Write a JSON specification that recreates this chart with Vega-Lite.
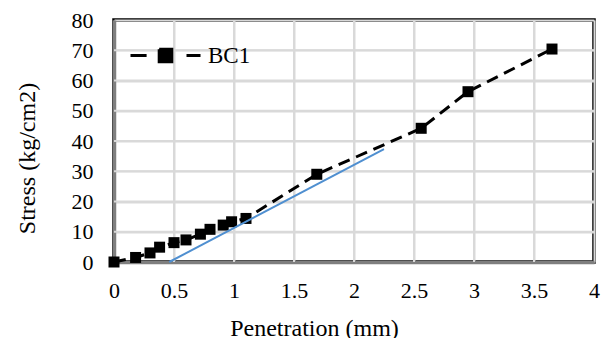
{
  "$schema": "https://vega.github.io/schema/vega-lite/v6.json",
  "width": 480,
  "height": 242,
  "autosize": {"type": "none"},
  "padding": {"left": 114, "top": 20, "right": 12, "bottom": 76},
  "background": "white",
  "config": {
    "view": {"stroke": "black", "strokeWidth": 3.5},
    "font": "Liberation Serif",
    "axis": {
      "labelFont": "Liberation Serif",
      "titleFont": "Liberation Serif",
      "labelColor": "black",
      "titleColor": "black",
      "titleFontWeight": "normal",
      "grid": true,
      "gridColor": "#d9d9d9",
      "gridWidth": 2,
      "gridOpacity": 1,
      "zindex": 1,
      "ticks": false,
      "domainColor": "#7f7f7f",
      "domainWidth": 3.5,
      "labelFontSize": 22,
      "labelFlush": false,
      "labelOverlap": false,
      "titleFontSize": 24
    }
  },
  "datasets": {
    "gridx": [{"v": 0.5}, {"v": 1}, {"v": 1.5}, {"v": 2}, {"v": 2.5}, {"v": 3}, {"v": 3.5}],
    "gridy": [{"v": 10}, {"v": 20}, {"v": 30}, {"v": 40}, {"v": 50}, {"v": 60}, {"v": 70}],
    "bc1": [
      {"pen": 0, "stress": 0},
      {"pen": 0.18, "stress": 1.5},
      {"pen": 0.3, "stress": 3},
      {"pen": 0.38, "stress": 4.9},
      {"pen": 0.5, "stress": 6.4},
      {"pen": 0.6, "stress": 7.3},
      {"pen": 0.72, "stress": 9.2},
      {"pen": 0.8, "stress": 10.8},
      {"pen": 0.91, "stress": 12.2},
      {"pen": 0.98, "stress": 13.3},
      {"pen": 1.1, "stress": 14.4},
      {"pen": 1.69, "stress": 29},
      {"pen": 2.56, "stress": 44.2},
      {"pen": 2.95, "stress": 56.3},
      {"pen": 3.65, "stress": 70.4}
    ],
    "tan": [
      {"pen": 0.46, "stress": 0},
      {"pen": 2.25, "stress": 37.3}
    ]
  },
  "layer": [
    {
      "data": {"name": "gridx"},
      "mark": {"type": "rule", "color": "#d9d9d9", "strokeWidth": 2},
      "encoding": {
        "x": {
          "field": "v",
          "type": "quantitative",
          "scale": {"domain": [0, 4], "nice": false},
          "axis": {
            "values": [0, 0.5, 1, 1.5, 2, 2.5, 3, 3.5, 4],
            "format": "~g",
            "labelPadding": 18,
            "labelBound": false,
            "title": "Penetration (mm)",
            "titleX": 200,
            "titleY": 73,
            "titleAlign": "center",
            "titleBaseline": "alphabetic"
          }
        }
      }
    },
    {
      "data": {"name": "gridy"},
      "mark": {"type": "rule", "color": "#d9d9d9", "strokeWidth": 2},
      "encoding": {
        "y": {
          "field": "v",
          "type": "quantitative",
          "scale": {"domain": [0, 80], "nice": false},
          "axis": {
            "values": [0, 10, 20, 30, 40, 50, 60, 70, 80],
            "format": "d",
            "labelPadding": 21,
            "title": "Stress (kg/cm2)",
            "titleAngle": -90,
            "titleX": -87,
            "titleY": 138,
            "titleAlign": "center",
            "titleBaseline": "middle"
          }
        }
      }
    },
    {
      "data": {"name": "bc1"},
      "mark": {
        "type": "line",
        "strokeWidth": 3,
        "strokeDash": [12, 7],
        "point": {"shape": "square", "size": 121, "filled": true, "color": "black"}
      },
      "encoding": {
        "x": {
          "field": "pen",
          "type": "quantitative",
          "axis": {
            "values": [0, 0.5, 1, 1.5, 2, 2.5, 3, 3.5, 4],
            "format": "~g",
            "labelPadding": 18,
            "labelBound": false,
            "title": "Penetration (mm)",
            "titleX": 200,
            "titleY": 73,
            "titleAlign": "center",
            "titleBaseline": "alphabetic"
          }
        },
        "y": {
          "field": "stress",
          "type": "quantitative",
          "axis": {
            "values": [0, 10, 20, 30, 40, 50, 60, 70, 80],
            "format": "d",
            "labelPadding": 21,
            "title": "Stress (kg/cm2)",
            "titleAngle": -90,
            "titleX": -87,
            "titleY": 138,
            "titleAlign": "center",
            "titleBaseline": "middle"
          }
        },
        "color": {
          "datum": "BC1",
          "type": "nominal",
          "scale": {"range": ["black"]},
          "legend": {
            "orient": "none",
            "legendX": 15,
            "legendY": -1,
            "title": null,
            "padding": 0,
            "symbolOffset": 0,
            "symbolType": "M-1,0L-0.54,0M0.6,0L1,0M-0.18,-0.18L0.18,-0.18L0.18,0.18L-0.18,0.18Z",
            "symbolSize": 4900,
            "symbolStrokeWidth": 3,
            "labelFontSize": 23,
            "labelFont": "Liberation Serif",
            "labelColor": "black",
            "labelOffset": 6,
            "encode": {
              "symbols": {
                "update": {
                  "fill": {"value": "black"},
                  "stroke": {"value": "black"},
                  "strokeWidth": {"value": 3},
                  "strokeDash": {"value": [100, 0]},
                  "opacity": {"value": 1}
                }
              }
            }
          }
        }
      }
    },
    {
      "data": {"name": "tan"},
      "mark": {"type": "line", "color": "#4f8fd0", "strokeWidth": 2},
      "encoding": {
        "x": {
          "field": "pen",
          "type": "quantitative",
          "axis": {
            "values": [0, 0.5, 1, 1.5, 2, 2.5, 3, 3.5, 4],
            "format": "~g",
            "labelPadding": 18,
            "labelBound": false,
            "title": "Penetration (mm)",
            "titleX": 200,
            "titleY": 73,
            "titleAlign": "center",
            "titleBaseline": "alphabetic"
          }
        },
        "y": {
          "field": "stress",
          "type": "quantitative",
          "axis": {
            "values": [0, 10, 20, 30, 40, 50, 60, 70, 80],
            "format": "d",
            "labelPadding": 21,
            "title": "Stress (kg/cm2)",
            "titleAngle": -90,
            "titleX": -87,
            "titleY": 138,
            "titleAlign": "center",
            "titleBaseline": "middle"
          }
        }
      }
    }
  ]
}
